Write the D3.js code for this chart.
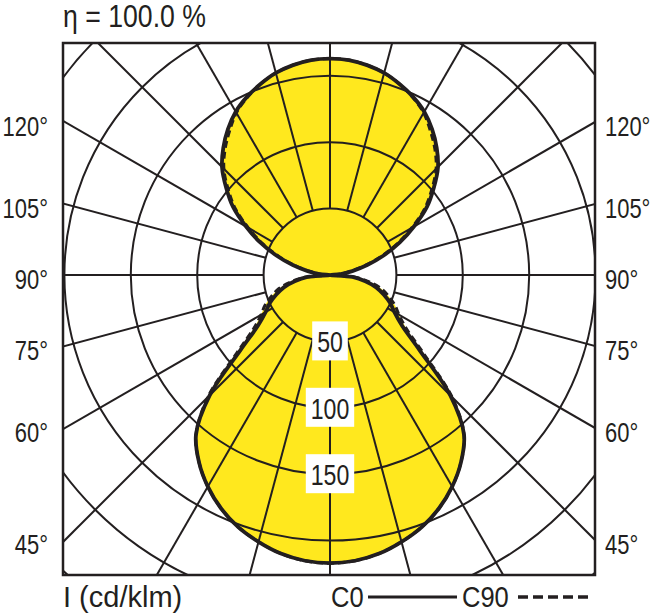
<!DOCTYPE html>
<html>
<head>
<meta charset="utf-8">
<script src="https://cdn.jsdelivr.net/npm/d3@7/dist/d3.min.js"></script>
<style>
  html, body { margin: 0; padding: 0; background: #fff; }
  svg { display: block; }
  text { font-family: 'Liberation Sans', Arial, sans-serif; fill: #231f20; }
</style>
</head>
<body>
<svg id="chart" width="660" height="616"></svg>
<script>
// ---- data ----
const gammaAngles = [0,5,10,15,20,25,30,35,40,45,50,55,60,65,70,75,80,85,90,
                     95,100,105,110,115,120,125,130,135,140,145,150,155,160,165,170,175,180];
const intensityC0 = [217,216,213,208,202,194,184,172,157,128,88,66,56,50,43,36,27,17,0,
                     8,17,29,43,58,73,89,102,115,125,134,142,148,153,157.5,160.5,162.5,163];
const intensityC90 = [217,216,213,208,202,194,184,172,157,130,92,70,60,54,47,40,30,19,0,
                      7,15,27,41,56,71,87,100,113,123,132,141,147.5,153,157.5,160.5,162.5,163];
const ringValues = [50,100,150,200,250,300];
const ringLabels = [50,100,150];
const rayAngles = d3.range(0, 360, 15);
const sideLabelAngles = [45,60,75,90,105,120];
const titleText = "η = 100.0 %";
const unitText = "I (cd/klm)";
const legendNames = ["C0", "C90"];

// ---- layout ----
const svg = d3.select("#chart");
const cx = 330, cy = 275;
const box = {x0: 63, y0: 43, x1: 595, y1: 575};
const r = d3.scaleLinear().domain([0, 50]).range([0, 66.4]);
const ink = "#231f20";
const yellow = "#ffe81e";
const toRad = d => d * Math.PI / 180;

// condensed text helper
function ctext(x, y, str, size, sx, anchor) {
  return svg.append("text")
    .attr("transform", `translate(${x},${y}) scale(${sx},1)`)
    .attr("font-size", size)
    .attr("text-anchor", anchor || "start")
    .text(str);
}

svg.append("defs").append("clipPath").attr("id", "boxclip")
  .append("rect").attr("x", box.x0).attr("y", box.y0)
  .attr("width", box.x1 - box.x0).attr("height", box.y1 - box.y0);

const plot = svg.append("g").attr("clip-path", "url(#boxclip)");
const g = plot.append("g").attr("transform", `translate(${cx},${cy})`);

// closed polar path: right side gamma 0..180, left side 175..5
function polarPoints(vals) {
  const pts = [];
  gammaAngles.forEach((a, i) => pts.push([Math.PI - toRad(a), r(vals[i])]));
  for (let i = gammaAngles.length - 2; i >= 1; i--) {
    pts.push([Math.PI + toRad(gammaAngles[i]), r(vals[i])]);
  }
  return pts;
}
const radial = d3.lineRadial().angle(d => d[0]).radius(d => d[1])
  .curve(d3.curveCatmullRomClosed.alpha(0.5));

// fills
[intensityC90, intensityC0].forEach(vals => {
  g.append("path").attr("d", radial(polarPoints(vals)))
    .attr("fill", yellow).attr("stroke", "none");
});

// rings
g.selectAll("circle.ring").data(ringValues).enter().append("circle")
  .attr("class", "ring").attr("r", d => r(d))
  .attr("fill", "none").attr("stroke", ink).attr("stroke-width", 2);

// rays
g.selectAll("line.ray").data(rayAngles).enter().append("line")
  .attr("x1", d => r(50) * Math.sin(toRad(d)))
  .attr("y1", d => r(50) * Math.cos(toRad(d)))
  .attr("x2", d => 600 * Math.sin(toRad(d)))
  .attr("y2", d => 600 * Math.cos(toRad(d)))
  .attr("stroke", ink).attr("stroke-width", 2);

// curves
g.append("path").attr("d", radial(polarPoints(intensityC0)))
  .attr("fill", "none").attr("stroke", ink).attr("stroke-width", 3.8)
  .attr("stroke-linejoin", "round");
g.append("path").attr("d", radial(polarPoints(intensityC90)))
  .attr("fill", "none").attr("stroke", ink).attr("stroke-width", 3)
  .attr("stroke-dasharray", "7,4");

// frame
svg.append("rect").attr("x", box.x0).attr("y", box.y0)
  .attr("width", box.x1 - box.x0).attr("height", box.y1 - box.y0)
  .attr("fill", "none").attr("stroke", ink).attr("stroke-width", 2.5);

// ring value labels with white boxes
ringLabels.forEach(v => {
  const y = cy + r(v);
  const w = String(v).length * 12.8 + 10;
  svg.append("rect").attr("x", cx - w / 2).attr("y", y - 20)
    .attr("width", w).attr("height", 39).attr("fill", "#fff");
  ctext(cx, y + 11, String(v), 30, 0.77, "middle");
});

// side angle labels
sideLabelAngles.forEach(a => {
  const th = toRad(a);
  const dx = box.x1 - cx;
  const y = cy + dx * Math.cos(th) / Math.sin(th);
  ctext(48, y + 14, a + "°", 28.5, 0.77, "end");
  ctext(605, y + 14, a + "°", 28.5, 0.77, "start");
});

// title & unit
ctext(63, 27, titleText, 31, 0.86);
ctext(63, 607, unitText, 29, 1.0);

// legend
ctext(331, 607, legendNames[0], 29, 0.88);
svg.append("line").attr("x1", 368).attr("x2", 457).attr("y1", 597).attr("y2", 597)
  .attr("stroke", ink).attr("stroke-width", 3);
ctext(462, 607, legendNames[1], 29, 0.88);
svg.append("line").attr("x1", 518).attr("x2", 590).attr("y1", 597).attr("y2", 597)
  .attr("stroke", ink).attr("stroke-width", 3.5).attr("stroke-dasharray", "10,5");
</script>
</body>
</html>
